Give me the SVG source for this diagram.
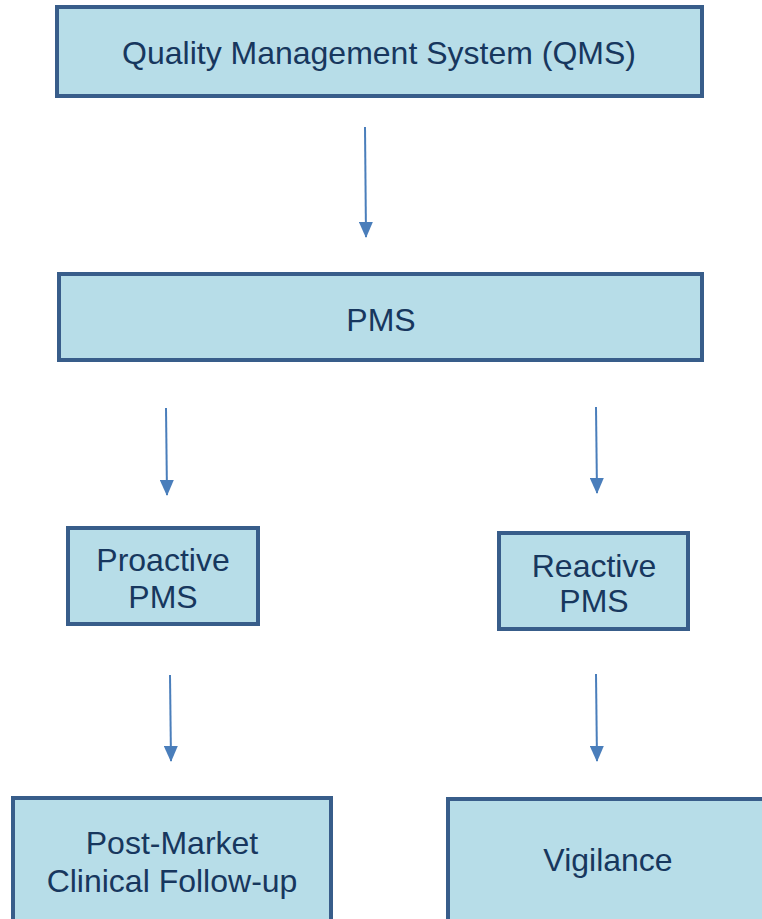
<svg xmlns="http://www.w3.org/2000/svg" width="762" height="919" viewBox="0 0 762 919">
<defs>
<style>
.box{fill:#b7dde8;stroke:#385d8a;stroke-width:4}
.t{font-family:"Liberation Sans",Arial,sans-serif;font-size:32px;fill:#17375e;text-anchor:middle}
.c{stroke:#4a7ebb;stroke-width:2;fill:none}
</style>
<marker id="ah" viewBox="0 0 16 14" refX="15" refY="7" markerWidth="16" markerHeight="14" markerUnits="userSpaceOnUse" orient="auto">
<path d="M0,0 L16,7 L0,14 Z" fill="#4a7ebb"/>
</marker>
</defs>
<rect width="762" height="919" fill="#ffffff"/>
<g id="qms"><rect class="box" x="57" y="7" width="645" height="89"/><text class="t" x="379" y="64">Quality Management System (QMS)</text></g>
<g id="pms"><rect class="box" x="59" y="274" width="643" height="86"/><text class="t" x="381" y="331">PMS</text></g>
<g id="proactive"><rect class="box" x="68" y="528" width="190" height="96"/><text class="t" x="163" y="571">Proactive</text><text class="t" x="163" y="608">PMS</text></g>
<g id="reactive"><rect class="box" x="499" y="533" width="189" height="96"/><text class="t" x="594" y="577">Reactive</text><text class="t" x="594" y="612">PMS</text></g>
<g id="pmcf"><rect class="box" x="13" y="798" width="318" height="140"/><text class="t" x="172" y="854">Post-Market</text><text class="t" x="172" y="892">Clinical Follow-up</text></g>
<g id="vigilance"><rect class="box" x="448" y="799" width="330" height="140"/><text class="t" x="608" y="871">Vigilance</text></g>
<g id="connectors">
<line class="c" x1="365" y1="127" x2="366" y2="237" marker-end="url(#ah)"/>
<line class="c" x1="166" y1="408" x2="167" y2="495" marker-end="url(#ah)"/>
<line class="c" x1="596" y1="407" x2="597" y2="493" marker-end="url(#ah)"/>
<line class="c" x1="170" y1="675" x2="171" y2="761" marker-end="url(#ah)"/>
<line class="c" x1="596" y1="674" x2="597" y2="761" marker-end="url(#ah)"/>
</g>
</svg>
